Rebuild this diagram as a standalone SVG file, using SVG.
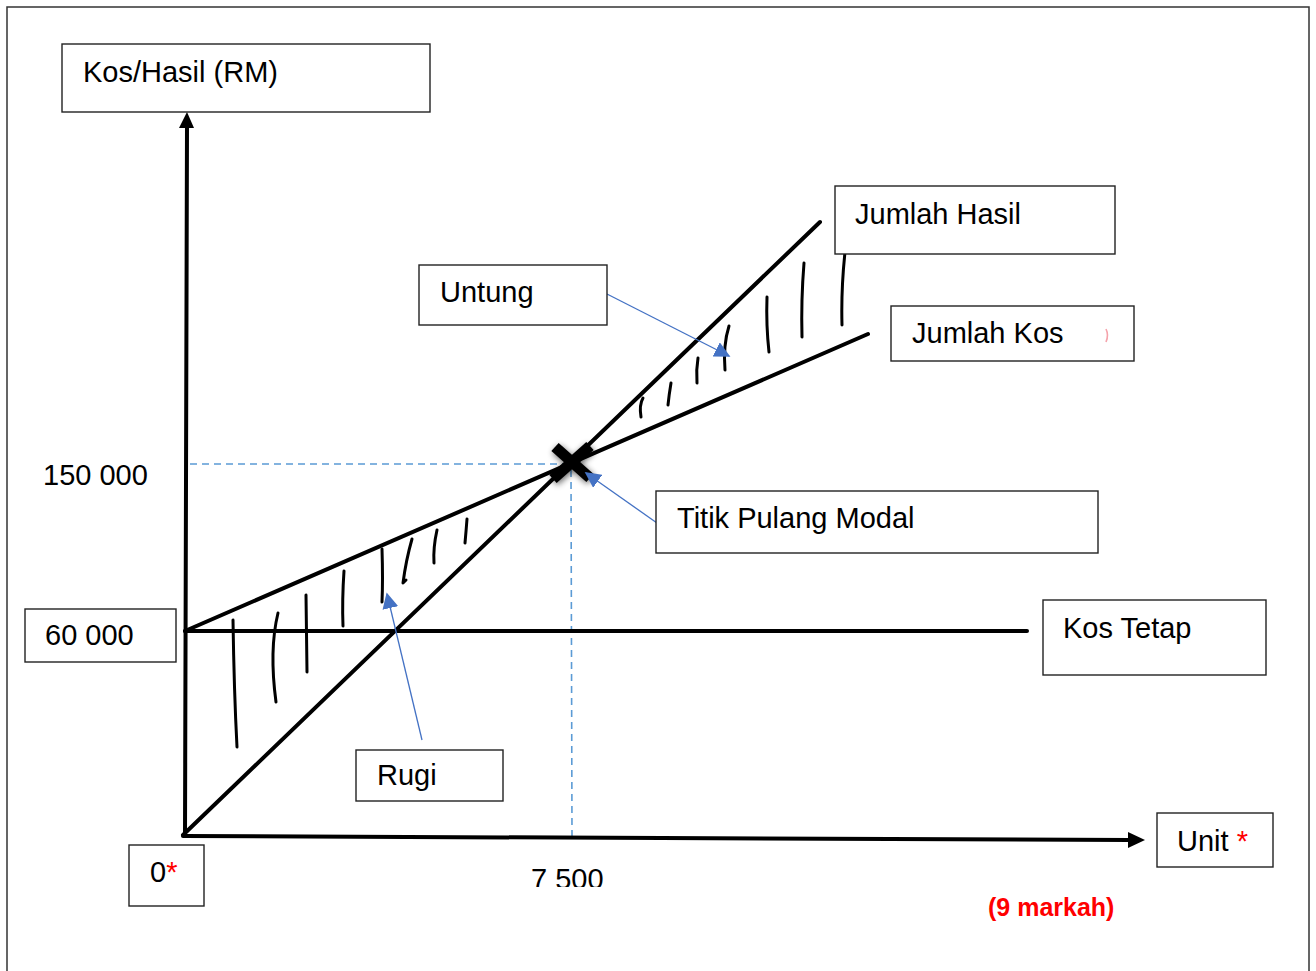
<svg xmlns="http://www.w3.org/2000/svg" width="1316" height="971" viewBox="0 0 1316 971">
<defs>
<style>
.box{fill:#fff;stroke:#222;stroke-width:1.4}
.t{font-family:"Liberation Sans",Arial,sans-serif;font-size:29px;fill:#000}
.red{fill:#f00}
.ln{stroke:#000;stroke-width:4;fill:none;stroke-linecap:round}
.hatch{stroke:#000;stroke-width:3;fill:none;stroke-linecap:round;stroke-linejoin:round}
.dash{stroke:#5B9BD5;stroke-width:1.6;stroke-dasharray:7,5;fill:none}
.blue{stroke:#4472C4;stroke-width:1.3;fill:none}
</style>
<marker id="bh2" viewBox="0 0 10 10" refX="9" refY="5" markerWidth="16" markerHeight="16" markerUnits="userSpaceOnUse" orient="auto">
<path d="M0,0 L10,5 L0,10 Z" fill="#4472C4"/>
</marker>
<filter id="sh" x="-50%" y="-50%" width="200%" height="200%">
<feGaussianBlur in="SourceAlpha" stdDeviation="3"/>
<feOffset dx="1" dy="2" result="b"/>
<feComponentTransfer><feFuncA type="linear" slope="0.6"/></feComponentTransfer>
<feMerge><feMergeNode/><feMergeNode in="SourceGraphic"/></feMerge>
</filter>
<clipPath id="clip75"><rect x="500" y="850" width="150" height="37"/></clipPath>
</defs>
<rect width="1316" height="971" fill="#fff"/>
<rect x="7" y="7" width="1302" height="980" fill="none" stroke="#333" stroke-width="1.5"/>

<g id="guides">
<line class="dash" x1="190" y1="464" x2="566" y2="464"/>
<line class="dash" x1="571" y1="470" x2="572" y2="836"/>
</g>

<g id="axes">
<line class="ln" x1="185" y1="836" x2="187" y2="126"/>
<path d="M179,128 L187,112 L194,128 Z" fill="#000"/>
<line class="ln" x1="183" y1="836" x2="1130" y2="840"/>
<path d="M1128,832 L1145,840 L1128,848 Z" fill="#000"/>
</g>

<g id="lines">
<line class="ln" x1="185" y1="631" x2="1027" y2="631"/>
<line class="ln" x1="185" y1="631" x2="868" y2="334"/>
<line class="ln" x1="183" y1="835" x2="820" y2="222"/>
</g>

<g id="hatch-loss">
<path class="hatch" d="M233,620 Q234,690 237,747"/>
<path class="hatch" d="M278,613 Q269,650 276,702"/>
<path class="hatch" d="M306,595 L307,672"/>
<path class="hatch" d="M344,571 Q342,600 343,626"/>
<path class="hatch" d="M382,549 Q383,580 382,602"/>
<path class="hatch" d="M412,539 Q406,560 403,583 L406,580"/>
<path class="hatch" d="M437,530 Q433,548 434,563"/>
<path class="hatch" d="M467,519 Q466,532 465,543"/>
</g>

<g id="hatch-profit">
<path class="hatch" d="M643,398 Q639,405 641,417"/>
<path class="hatch" d="M671,383 Q669,395 668,405"/>
<path class="hatch" d="M698,358 Q696,370 697,383"/>
<path class="hatch" d="M729,326 Q723,345 725,370"/>
<path class="hatch" d="M767,297 Q766,325 769,352"/>
<path class="hatch" d="M804,263 Q801,300 802,337"/>
<path class="hatch" d="M845,252 Q841,290 842,325"/>
</g>

<g id="bep-cross" filter="url(#sh)">
<line x1="555" y1="447" x2="590" y2="478" stroke="#000" stroke-width="11"/>
<line x1="590" y1="446" x2="553" y2="479" stroke="#000" stroke-width="11"/>
</g>

<g id="connectors">
<line class="blue" x1="607" y1="294" x2="729" y2="356" marker-end="url(#bh2)"/>
<line class="blue" x1="657" y1="523" x2="586" y2="473" marker-end="url(#bh2)"/>
<line class="blue" x1="422" y1="740" x2="387" y2="594" marker-end="url(#bh2)"/>
</g>

<g id="node-kos-hasil">
<rect class="box" x="62" y="44" width="368" height="68"/>
<text class="t" x="83" y="82">Kos/Hasil (RM)</text>
</g>
<g id="node-jumlah-hasil">
<rect class="box" x="835" y="186" width="280" height="68"/>
<text class="t" x="855" y="224">Jumlah Hasil</text>
</g>
<g id="node-untung">
<rect class="box" x="419" y="265" width="188" height="60"/>
<text class="t" x="440" y="302">Untung</text>
</g>
<g id="node-jumlah-kos">
<rect class="box" x="891" y="306" width="243" height="55"/>
<text class="t" x="912" y="343">Jumlah Kos</text>
<path d="M1106,329 Q1109,335 1106,342" stroke="#f5a3ab" stroke-width="1.6" fill="none"/>
</g>
<g id="node-titik">
<rect class="box" x="656" y="491" width="442" height="62"/>
<text class="t" x="677" y="528">Titik Pulang Modal</text>
</g>
<g id="label-150000">
<text class="t" x="43" y="485">150 000</text>
</g>
<g id="node-60000">
<rect class="box" x="25" y="609" width="151" height="53"/>
<text class="t" x="45" y="645">60 000</text>
</g>
<g id="node-kos-tetap">
<rect class="box" x="1043" y="600" width="223" height="75"/>
<text class="t" x="1063" y="638">Kos Tetap</text>
</g>
<g id="node-rugi">
<rect class="box" x="356" y="750" width="147" height="51"/>
<text class="t" x="377" y="785">Rugi</text>
</g>
<g id="node-zero">
<rect class="box" x="129" y="845" width="75" height="61"/>
<text class="t" x="150" y="882">0<tspan class="red">*</tspan></text>
</g>
<g id="node-unit">
<rect class="box" x="1157" y="813" width="116" height="54"/>
<text class="t" x="1177" y="851">Unit <tspan class="red">*</tspan></text>
</g>
<g id="label-7500" clip-path="url(#clip75)">
<text class="t" x="531" y="889">7 500</text>
</g>
<g id="label-markah">
<text x="988" y="916" font-family="'Liberation Sans',Arial,sans-serif" font-size="25" font-weight="bold" fill="#f00">(9 markah)</text>
</g>
</svg>
